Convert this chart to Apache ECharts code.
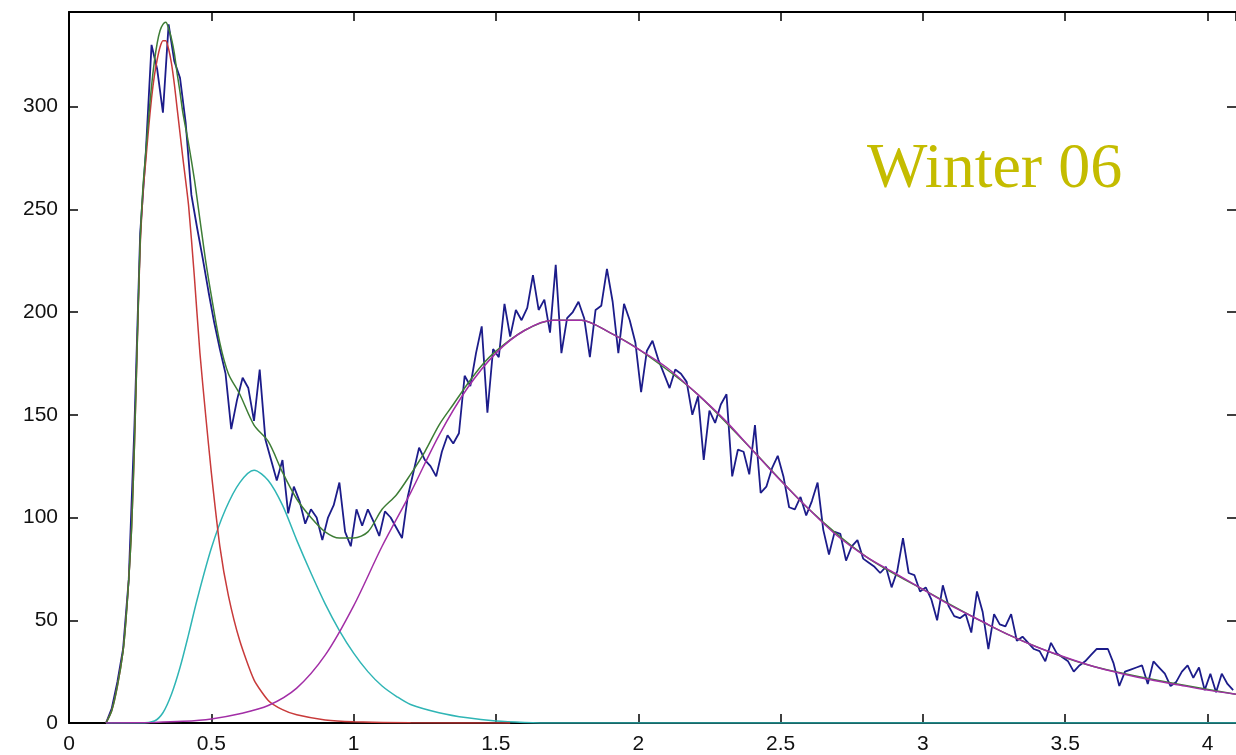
<!DOCTYPE html>
<html>
<head>
<meta charset="utf-8">
<title>Winter 06</title>
<script src="https://cdn.jsdelivr.net/npm/echarts@6/dist/echarts.min.js"></script>
<style>
html, body { margin: 0; padding: 0; background: #fff; }
#chart { width: 1236px; height: 755px; }
</style>
</head>
<body>
<div id="chart"></div>
<script>
// histogram (blue), bins start at 0.13 and are 0.02 wide
var binStart = 0.13;
var binStep = 0.02;
var counts = [
	0, 7, 20, 36, 70, 145, 238, 278, 330, 318,
	297, 340, 322, 314, 292, 257, 241, 226, 210, 195,
	182, 170, 143, 157, 168, 163, 147, 172, 138, 128,
	118, 128, 102, 115, 108, 97, 104, 100, 89, 100,
	106, 117, 93, 86, 104, 96, 104, 98, 91, 103,
	100, 95, 90, 110, 122, 134, 128, 125, 120, 132,
	140, 136, 141, 169, 164, 180, 193, 151, 182, 178,
	204, 188, 201, 196, 202, 218, 201, 206, 190, 223,
	180, 197, 200, 205, 197, 178, 201, 203, 221, 205,
	180, 204, 196, 185, 161, 181, 186, 177, 170, 163,
	172, 170, 166, 150, 159, 128, 152, 146, 155, 160,
	120, 133, 132, 121, 145, 112, 115, 124, 130, 120,
	105, 104, 110, 101, 108, 117, 94, 82, 93, 92,
	79, 86, 89, 80, 78, 76, 73, 76, 66, 74,
	90, 73, 72, 64, 66, 60, 50, 67, 57, 52,
	51, 53, 44, 64, 54, 36, 53, 48, 47, 53,
	40, 42, 39, 36, 35, 30, 39, 34, 32, 30,
	25, 28, 30, 33, 36, 36, 36, 29, 18, 25,
	26, 27, 28, 19, 30, 27, 24, 18, 20, 25,
	28, 22, 27, 16, 24, 15, 24, 19, 16
];

// fitted components [x, y]
var fitRed = [
	[0.13, 0], [0.15, 6], [0.17, 18], [0.19, 35], [0.2, 50], [0.21, 70], [0.22, 95],
	[0.23, 135], [0.24, 185], [0.25, 232], [0.26, 258], [0.27, 274], [0.28, 290],
	[0.29, 304], [0.3, 315], [0.31, 323], [0.32, 329], [0.33, 332], [0.34, 332],
	[0.35, 328], [0.36, 321], [0.37, 311], [0.38, 299], [0.39, 287], [0.4, 275],
	[0.42, 252], [0.44, 218], [0.46, 180], [0.48, 150], [0.5, 122], [0.53, 86],
	[0.56, 62], [0.6, 40], [0.65, 21], [0.7, 11], [0.75, 6.5], [0.8, 4], [0.9, 1.5],
	[1.0, 0.6], [1.2, 0.1], [1.55, 0]
];
var fitCyan = [
	[0.13, 0], [0.25, 0], [0.3, 1], [0.33, 5], [0.36, 14], [0.39, 27], [0.42, 43],
	[0.45, 60], [0.5, 85], [0.55, 104], [0.6, 117], [0.65, 123], [0.7, 118],
	[0.75, 106], [0.8, 89], [0.85, 73], [0.9, 58], [0.95, 45], [1.0, 34], [1.05, 25],
	[1.1, 18], [1.15, 13], [1.2, 9], [1.3, 5], [1.4, 2.5], [1.5, 1], [1.6, 0.3],
	[1.7, 0], [4.1, 0]
];
var fitMagenta = [
	[0.13, 0], [0.3, 0.3], [0.4, 0.8], [0.5, 2], [0.6, 4.5], [0.7, 8.5], [0.8, 17],
	[0.9, 33], [1.0, 57], [1.1, 86], [1.2, 112], [1.3, 140], [1.4, 163], [1.5, 180],
	[1.6, 191], [1.7, 196], [1.8, 196], [1.9, 190], [2.0, 182], [2.1, 173], [2.2, 161],
	[2.3, 148], [2.4, 133], [2.5, 118], [2.6, 104], [2.7, 91], [2.8, 81], [2.9, 73],
	[3.0, 65], [3.1, 57], [3.2, 50], [3.3, 43], [3.4, 37], [3.5, 32], [3.6, 27.5],
	[3.7, 24], [3.8, 21], [3.9, 18.5], [4.0, 16], [4.1, 14]
];
// total of the fit
var fitTotal = [
	[0.13, 0], [0.15, 6], [0.17, 18], [0.19, 35], [0.2, 50], [0.21, 70], [0.22, 95],
	[0.23, 136], [0.24, 186], [0.25, 234], [0.26, 261], [0.27, 278], [0.28, 295],
	[0.29, 310], [0.3, 322], [0.31, 331], [0.32, 337], [0.33, 340], [0.34, 341],
	[0.35, 338], [0.36, 333], [0.37, 326], [0.38, 316], [0.39, 307], [0.4, 297],
	[0.42, 282], [0.44, 265], [0.46, 245], [0.48, 225], [0.5, 208], [0.53, 185],
	[0.56, 170], [0.6, 160], [0.65, 145], [0.7, 137], [0.75, 122], [0.8, 109],
	[0.85, 100], [0.9, 93], [0.95, 90], [1.0, 90], [1.05, 93], [1.1, 104],
	[1.15, 111], [1.2, 121], [1.25, 132], [1.3, 145], [1.35, 155], [1.4, 165],
	[1.45, 174], [1.5, 181], [1.6, 191], [1.7, 196], [1.8, 196], [1.9, 190],
	[2.0, 182], [2.2, 161], [2.4, 133], [2.6, 104], [2.8, 81], [3.0, 65],
	[3.3, 43], [3.6, 27.5], [4.1, 14]
];

var xTicks = ['0', '0.5', '1', '1.5', '2', '2.5', '3', '3.5', '4'];
var yTicks = ['0', '50', '100', '150', '200', '250', '300'];
var label = 'Winter 06';

function histData() {
	var out = [];
	for (var i = 0; i < counts.length; i++) {
		out.push([+(binStart + i * binStep).toFixed(2), counts[i]]);
	}
	return out;
}

function lineSeries(data, color, smooth, width) {
	return {
		type: 'line',
		data: data,
		showSymbol: false,
		smooth: smooth,
		lineStyle: { color: color, width: width || 1.5 },
		emphasis: { disabled: true },
		animation: false
	};
}

var axisText = { fontFamily: 'Liberation Sans', fontSize: 21, color: '#111' };
var frame = { show: true, onZero: false, lineStyle: { color: '#000', width: 2 } };
var ticksIn = { show: true, inside: true, length: 9, lineStyle: { color: '#000', width: 1.5 } };

var chart = echarts.init(document.getElementById('chart'));
var option = {
	backgroundColor: '#fff',
	animation: false,
	grid: { left: 69, right: 0, top: 12, bottom: 32 },
	xAxis: [{
		type: 'value', min: 0, max: 4.1, interval: 0.5,
		axisLine: frame, axisTick: ticksIn, splitLine: { show: false },
		axisLabel: Object.assign({ margin: 11, showMaxLabel: false,
			formatter: function (v) { return xTicks.indexOf(String(v)) >= 0 ? String(v) : ''; } }, axisText)
	}, {
		type: 'value', position: 'top', min: 0, max: 4.1, interval: 0.5,
		axisLine: frame, axisTick: ticksIn, splitLine: { show: false }, axisLabel: { show: false }
	}],
	yAxis: [{
		type: 'value', min: 0, max: 346, interval: 50,
		axisLine: frame, axisTick: ticksIn, splitLine: { show: false },
		axisLabel: Object.assign({ margin: 11, showMaxLabel: false,
			formatter: function (v) { return yTicks.indexOf(String(v)) >= 0 ? String(v) : ''; } }, axisText)
	}, {
		// right edge of the frame sits just past the picture, only ticks show
		type: 'value', position: 'right', min: 0, max: 346, interval: 50,
		axisLine: { show: false, onZero: false }, axisTick: ticksIn,
		splitLine: { show: false }, axisLabel: { show: false }
	}],
	graphic: [{
		type: 'text', left: 867, top: 138, silent: true,
		style: { text: label, font: '64px "Liberation Serif"', fill: '#c4bc00' }
	}],
	series: [
		lineSeries(histData(), '#1c1c8a', false, 1.8),
		lineSeries(fitCyan, '#2fb5b5', 0.3),
		lineSeries(fitRed, '#c83a3a', 0.2),
		lineSeries(fitTotal, '#3e7d36', 0.3),
		lineSeries(fitMagenta, '#a22ea6', 0.3)
	]
};
chart.setOption(option);
</script>
</body>
</html>
